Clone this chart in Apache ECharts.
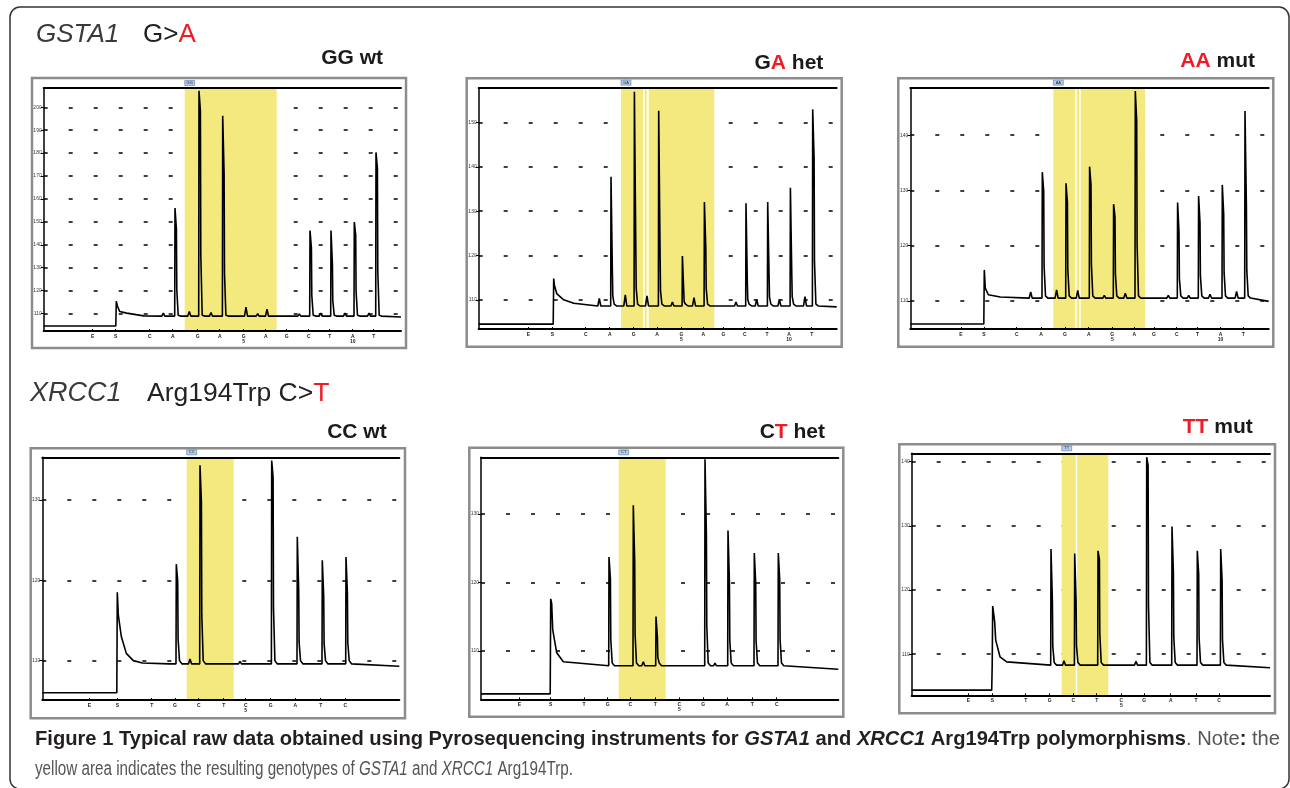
<!DOCTYPE html>
<html>
<head>
<meta charset="utf-8">
<script src="https://cdn.jsdelivr.net/npm/echarts@6/dist/echarts.min.js"></script>
<style>
  html, body { margin: 0; padding: 0; background: #fff; }
  #main { width: 1290px; height: 788px; }
</style>
</head>
<body>
<div id="main"></div>
<script>
// dispensation order shown under each pyrogram
const dispTop = ['E', 'S', 'C', 'A', 'G', 'A', 'G\n5', 'A', 'G', 'C', 'T', 'A\n10', 'T']
const dispBottom = ['E', 'S', 'T', 'G', 'C', 'T', 'C\n5', 'G', 'A', 'T', 'C']

// y tick labels
const ticksP1 = [110, 120, 130, 140, 150, 160, 170, 180, 190, 200]
const ticksP2 = [110, 120, 130, 140, 150]
const ticksP3 = [110, 120, 130, 140]
const ticksP4 = [110, 120, 130]
const ticksP5 = [110, 120, 130]
const ticksP6 = [110, 120, 130, 140]

// dispensation positions (flow time) per panel
const dispPosP1 = [49, 72, 106, 129, 154, 176, 200, 222, 243, 265, 286, 309, 330]
const dispPosP2 = [49.7, 73.7, 107, 131, 155, 178.3, 202.7, 224.7, 244.7, 266, 288.3, 310.3, 333]
const dispPosP3 = [50.7, 73.7, 106.4, 130.7, 154.7, 178.4, 202, 224, 243.7, 266.4, 287.3, 310.3, 333]
const dispPosP4 = [47, 75, 109.4, 132.7, 156.4, 181.4, 203.4, 228.4, 253, 278.4, 303]
const dispPosP5 = [38.3, 69.7, 103, 126.7, 149.3, 174.3, 198.3, 222.3, 246, 271.3, 295.7]
const dispPosP6 = [56.7, 80.6, 114, 138, 161.6, 185, 209.6, 232.6, 259, 284.3, 307.3]

// peaks: [time, top, shoulder]
const peaksP1 = [[131.3, 156.0, 146.9], [155.3, 207.2, 198.5], [179, 196.3, 171.3], [266.3, 146.2, 138.8], [287.3, 146.2, 131.6], [310.6, 149.9, 144.4], [332.3, 180.3, 173.5]]
const peaksP2 = [[132.3, 137.8, 116.1], [155.7, 157.0, 122.0], [180, 152.7, 120.1], [203.7, 119.9, 111.6], [225.7, 132.1, 121.8], [267.3, 131.8, 113.3], [289, 132.1, 115.2], [311.7, 135.3, 115.6], [334, 153.0, 142.0]]
const peaksP3 = [[132, 133.3, 129.9], [155.7, 131.3, 127.9], [179.3, 134.3, 131.0], [203.3, 127.5, 125.2], [225, 148.0, 142.6], [267.3, 127.8, 122.4], [288.3, 129.0, 124.2], [312, 131.0, 125.7], [334.7, 144.4, 127.2]]
const peaksP4 = [[134, 122.0, 119.9], [157.7, 134.3, 129.8], [229.4, 134.9, 132.8], [255, 125.4, 118.7], [280, 122.5, 118.0], [303.7, 122.9, 118.4]]
const peaksP5 = [[128, 123.7, 120.6], [152.3, 131.3, 123.1], [175, 115.0, 112.0], [224, 138.0, 127.0], [247, 127.6, 120.2], [273.3, 124.3, 119.9], [297.3, 124.3, 120.4]]
const peaksP6 = [[139.3, 126.4, 118.2], [163, 125.7, 118.3], [186.3, 126.1, 124.8], [235, 140.7, 139.4], [260.3, 129.9, 122.8], [285.6, 126.1, 122.5], [309, 126.4, 121.5]]

// small bumps: [time, level]
const bumpsP1 = [[119.6, 110.2], [145.6, 110.9], [167.3, 110.5], [202.3, 112.8], [214, 109.9], [223.3, 111.9], [255.6, 109.8], [277, 110.2], [301.3, 110.2], [325.3, 110.2]]
const bumpsP2 = [[120.6, 110.3], [146.6, 111.1], [168.3, 110.9], [193.7, 109.5], [215.3, 110.5], [257.3, 109.5], [278, 110.1], [300.7, 110.1], [326.3, 110.7]]
const bumpsP3 = [[120.4, 111.6], [146.3, 112.0], [167.4, 111.9], [194, 111.0], [215, 111.4], [258, 111.0], [278.4, 111.0], [299.7, 111.2], [326.3, 111.7]]
const bumpsP4 = [[128.7, 109.8], [147.7, 110.2], [197.7, 109.9]]
const bumpsP5 = [[140, 108.0], [162.3, 108.4], [234, 108.2]]
const bumpsP6 = [[152.3, 109.0], [224.3, 108.9]]

// substrate step and its decay: [time, level]
const stepP1 = [[72.6, 115.4], [73.6, 113.4], [76, 110.9], [83, 110.2], [100, 109.0]]
const stepP2 = [[75, 114.8], [75.7, 113.3], [78, 111.4], [85, 110.0], [95, 109.2]]
const stepP3 = [[74, 115.6], [75, 112.3], [78, 111.1], [90, 110.7]]
const stepP4 = [[75, 118.5], [76, 115.7], [79, 113.0], [84, 110.9], [91, 110.0], [100, 109.7]]
const stepP5 = [[69.7, 117.6], [70.7, 116.9], [71.7, 113.1], [75.7, 109.7], [82.3, 108.4]]
const stepP6 = [[80.5, 108.3], [81, 117.5], [83, 115.0], [84, 112.2], [88.3, 109.6], [95, 108.8]]

// levels: [before step, baseline, baseline at end]
const levelsP1 = [104.6, 108.9, 108.5]
const levelsP2 = [104.5, 108.6, 108.4]
const levelsP3 = [105.8, 110.5, 109.9]
const levelsP4 = [106.0, 109.6, 109.3]
const levelsP5 = [103.7, 107.8, 107.3]
const levelsP6 = [104.4, 108.3, 107.9]

// y range and time range
const rangeP1 = [102.4, 208.4, 357.3]
const rangeP2 = [103.4, 157.9, 358]
const rangeP3 = [104.9, 148.6, 358.4]
const rangeP4 = [105.1, 135.3, 357]
const rangeP5 = [102.9, 138.3, 357.3]
const rangeP6 = [103.6, 141.3, 358.3]

// genotype region (yellow), split where the white lines are
const yellowP1 = [[141, 233]]
const yellowP2 = [[142.3, 164.3], [166, 168], [170, 235.6]]
const yellowP3 = [[143, 164.7], [166.4, 168.7], [170.4, 234.7]]
const yellowP4 = [[144.4, 191.4]]
const yellowP5 = [[137.7, 184.7]]
const yellowP6 = [[150, 164], [165.5, 196.6]]

const genotypeTags = ['GG', 'GA', 'AA', 'CC', 'CT', 'TT']

const panels = [
  { grid: [43.7, 88, 357.3, 243], frame: [32, 78, 374, 270], disp: dispTop, pos: dispPosP1, ticks: ticksP1, peaks: peaksP1, bumps: bumpsP1, step: stepP1, levels: levelsP1, range: rangeP1, yellow: yellowP1 },
  { grid: [478.7, 87.7, 358, 241.3], frame: [466.7, 78.3, 375, 268.4], disp: dispTop, pos: dispPosP2, ticks: ticksP2, peaks: peaksP2, bumps: bumpsP2, step: stepP2, levels: levelsP2, range: rangeP2, yellow: yellowP2 },
  { grid: [910.3, 87.7, 358.4, 241.3], frame: [898.3, 78.3, 375, 268.4], disp: dispTop, pos: dispPosP3, ticks: ticksP3, peaks: peaksP3, bumps: bumpsP3, step: stepP3, levels: levelsP3, range: rangeP3, yellow: yellowP3 },
  { grid: [42.3, 457.3, 357, 242.7], frame: [30.7, 448.3, 374.3, 270], disp: dispBottom, pos: dispPosP4, ticks: ticksP4, peaks: peaksP4, bumps: bumpsP4, step: stepP4, levels: levelsP4, range: rangeP4, yellow: yellowP4 },
  { grid: [481, 457.3, 357.3, 242], frame: [469.3, 447.7, 374, 269], disp: dispBottom, pos: dispPosP5, ticks: ticksP5, peaks: peaksP5, bumps: bumpsP5, step: stepP5, levels: levelsP5, range: rangeP5, yellow: yellowP5 },
  { grid: [911.7, 453.3, 358.3, 242], frame: [899.3, 444.3, 375.7, 269], disp: dispBottom, pos: dispPosP6, ticks: ticksP6, peaks: peaksP6, bumps: bumpsP6, step: stepP6, levels: levelsP6, range: rangeP6, yellow: yellowP6 }
]

// build the pyrogram polyline from the read step, peaks and bumps
function buildTrace(p) {
  const pre = p.levels[0]
  const base = p.levels[1]
  const pts = [[0, pre], [p.step[0][0] - 0.5, pre]]
  p.step.forEach(d => pts.push(d))
  const marks = p.peaks.map(k => ({ x: k[0], top: k[1], sh: k[2] }))
    .concat(p.bumps.map(b => ({ x: b[0], top: b[1], bump: true })))
  marks.sort((a, b) => a.x - b.x)
  marks.forEach(m => {
    if (m.bump) {
      pts.push([m.x - 1.5, base], [m.x, m.top], [m.x + 1.5, base])
    } else {
      // steep rise, a fall one sample later, then a short tail
      pts.push([m.x - 0.3, base], [m.x, m.top], [m.x + 1.4, m.sh],
        [m.x + 1.8, base + (m.sh - base) * 0.3], [m.x + 3.2, base + 0.4], [m.x + 5.5, base])
    }
  })
  pts.push([p.range[2], p.levels[2]])
  return pts
}

const grid = []
const xAxis = []
const yAxis = []
const series = []
const graphic = []

panels.forEach((p, i) => {
  grid.push({ left: p.grid[0], top: p.grid[1], width: p.grid[2], height: p.grid[3], containLabel: false })
  const pos = p.pos
  const disp = p.disp
  xAxis.push({
    type: 'value', gridIndex: i, min: 0, max: p.range[2], z: 5,
    axisLine: { show: true, onZero: false, lineStyle: { color: '#000', width: 2 } },
    axisTick: { show: true, inside: true, length: 2, customValues: pos, lineStyle: { color: '#000', width: 1 } },
    axisLabel: {
      show: true, customValues: pos, fontSize: 5, lineHeight: 5, margin: 3, color: '#222', fontWeight: 'bold',
      formatter: v => disp[pos.indexOf(v)] || ''
    },
    splitLine: { show: false }
  })
  xAxis.push({
    type: 'value', gridIndex: i, position: 'top', min: 0, max: p.range[2], z: 5,
    axisLine: { show: true, onZero: false, lineStyle: { color: '#000', width: 2 } },
    axisTick: { show: false }, axisLabel: { show: false }, splitLine: { show: false }
  })
  yAxis.push({
    type: 'value', gridIndex: i, min: p.range[0], max: p.range[1], z: 1,
    axisLine: { show: true, onZero: false, lineStyle: { color: '#000', width: 1.5 } },
    axisTick: { show: true, length: 3, customValues: p.ticks, lineStyle: { color: '#000', width: 1 } },
    axisLabel: { show: true, customValues: p.ticks, fontSize: 5, margin: 2, color: '#334' },
    splitLine: { show: true, lineStyle: { color: '#000', width: 1.5, type: [4, 21] } }
  })
  series.push({
    type: 'line', xAxisIndex: i * 2, yAxisIndex: i, data: buildTrace(p),
    showSymbol: false, animation: false, z: 3,
    lineStyle: { color: '#000', width: 1.6 },
    markArea: {
      silent: true,
      itemStyle: { color: '#f3e97f', opacity: 1 },
      data: p.yellow.map(a => [{ xAxis: a[0] }, { xAxis: a[1] }])
    },
    markPoint: {
      silent: true,
      symbol: 'rect', symbolSize: [10, 5], symbolOffset: [0, -5],
      itemStyle: { color: '#b7cce6', borderColor: '#4a6d9e', borderWidth: 0.5 },
      label: { show: true, position: 'inside', fontSize: 4, color: '#123', formatter: genotypeTags[i] },
      data: [{ coord: [p.yellow[0][0] + 5, p.range[1]] }]
    }
  })
  graphic.push({
    type: 'rect', silent: true, z: 0,
    shape: { x: p.frame[0], y: p.frame[1], width: p.frame[2], height: p.frame[3] },
    style: { fill: null, stroke: '#8c8c8c', lineWidth: 2.5 }
  })
})

const titleFont = 'Liberation Sans, Arial, sans-serif'
const red = '#ee1c25'

// outer frame
graphic.push({
  type: 'rect', silent: true, z: 0,
  shape: { x: 10, y: 7, width: 1279, height: 782, r: 10 },
  style: { fill: null, stroke: '#333', lineWidth: 1.5 }
})

// section titles
graphic.push(
  { type: 'text', x: 36, y: 34.5, style: { text: 'GSTA1', font: 'italic 26px ' + titleFont, fill: '#3a3a3a', verticalAlign: 'middle' } },
  { type: 'text', x: 143, y: 34.5, style: { text: 'G>{r|A}', font: '26px ' + titleFont, fill: '#222', verticalAlign: 'middle', rich: { r: { fill: red, font: '26px ' + titleFont } } } },
  { type: 'text', x: 30, y: 393.5, style: { text: 'XRCC1', font: 'italic 27px ' + titleFont, fill: '#3a3a3a', verticalAlign: 'middle' } },
  { type: 'text', x: 147, y: 393.5, style: { text: 'Arg194Trp C>{r|T}', font: '26.5px ' + titleFont, fill: '#222', verticalAlign: 'middle', rich: { r: { fill: red, font: '26.5px ' + titleFont } } } }
)

// genotype labels
const genoLabels = [
  ['GG', ' wt', 383, 58],
  ['G{r|A}', ' het', 823.3, 62.8],
  ['{r|AA}', ' mut', 1255, 61.3],
  ['CC', ' wt', 386.7, 432],
  ['C{r|T}', ' het', 825, 432.5],
  ['{r|TT}', ' mut', 1252.7, 427.5]
]
genoLabels.forEach(g => {
  graphic.push({
    type: 'text', x: g[2], y: g[3],
    style: {
      text: g[0] + g[1], font: 'bold 21px ' + titleFont, fill: '#1a1a1a',
      align: 'right', verticalAlign: 'middle',
      rich: { r: { fill: red, font: 'bold 21px ' + titleFont } }
    }
  })
})

// caption, squeezed horizontally to the width of the original condensed face
const capFont = 'Liberation Sans, sans-serif'
const capSize = 20
const ctx = document.createElement('canvas').getContext('2d')
function measure(parts) {
  let w = 0
  parts.forEach(s => { ctx.font = s[1] + capSize + 'px ' + capFont; w += ctx.measureText(s[0]).width })
  return w
}
const line1 = [
  ['Figure 1 Typical raw data obtained using Pyrosequencing instruments for ', 'bold '],
  ['GSTA1', 'italic bold '],
  [' and ', 'bold '],
  ['XRCC1', 'italic bold '],
  [' Arg194Trp polymorphisms', 'bold '],
  ['. Note', ''],
  [':', 'bold '],
  [' the', '']
]
const line2 = [
  ['yellow area indicates the resulting genotypes of ', ''],
  ['GSTA1', 'italic '],
  [' and ', ''],
  ['XRCC1', 'italic '],
  [' Arg194Trp.', '']
]
const sx1 = 1245 / measure(line1)
const sx2 = 538 / measure(line2)
const capRich = {
  b: { font: 'bold ' + capSize + 'px ' + capFont, fill: '#231f20' },
  bi: { font: 'italic bold ' + capSize + 'px ' + capFont, fill: '#231f20' },
  r: { font: capSize + 'px ' + capFont, fill: '#555' },
  i: { font: 'italic ' + capSize + 'px ' + capFont, fill: '#555' }
}
graphic.push({
  type: 'text', x: 35, y: 739, scaleX: sx1,
  style: {
    text: '{b|Figure 1 Typical raw data obtained using Pyrosequencing instruments for }{bi|GSTA1}{b| and }{bi|XRCC1}{b| Arg194Trp polymorphisms}{r|. Note}{b|:}{r| the}',
    verticalAlign: 'middle', rich: capRich
  }
})
graphic.push({
  type: 'text', x: 35, y: 769, scaleX: sx2,
  style: {
    text: '{r|yellow area indicates the resulting genotypes of }{i|GSTA1}{r| and }{i|XRCC1}{r| Arg194Trp.}',
    verticalAlign: 'middle', rich: capRich
  }
})

const chart = echarts.init(document.getElementById('main'))
chart.setOption({
  animation: false,
  backgroundColor: '#fff',
  grid: grid,
  xAxis: xAxis,
  yAxis: yAxis,
  series: series,
  graphic: graphic
})
</script>
</body>
</html>
